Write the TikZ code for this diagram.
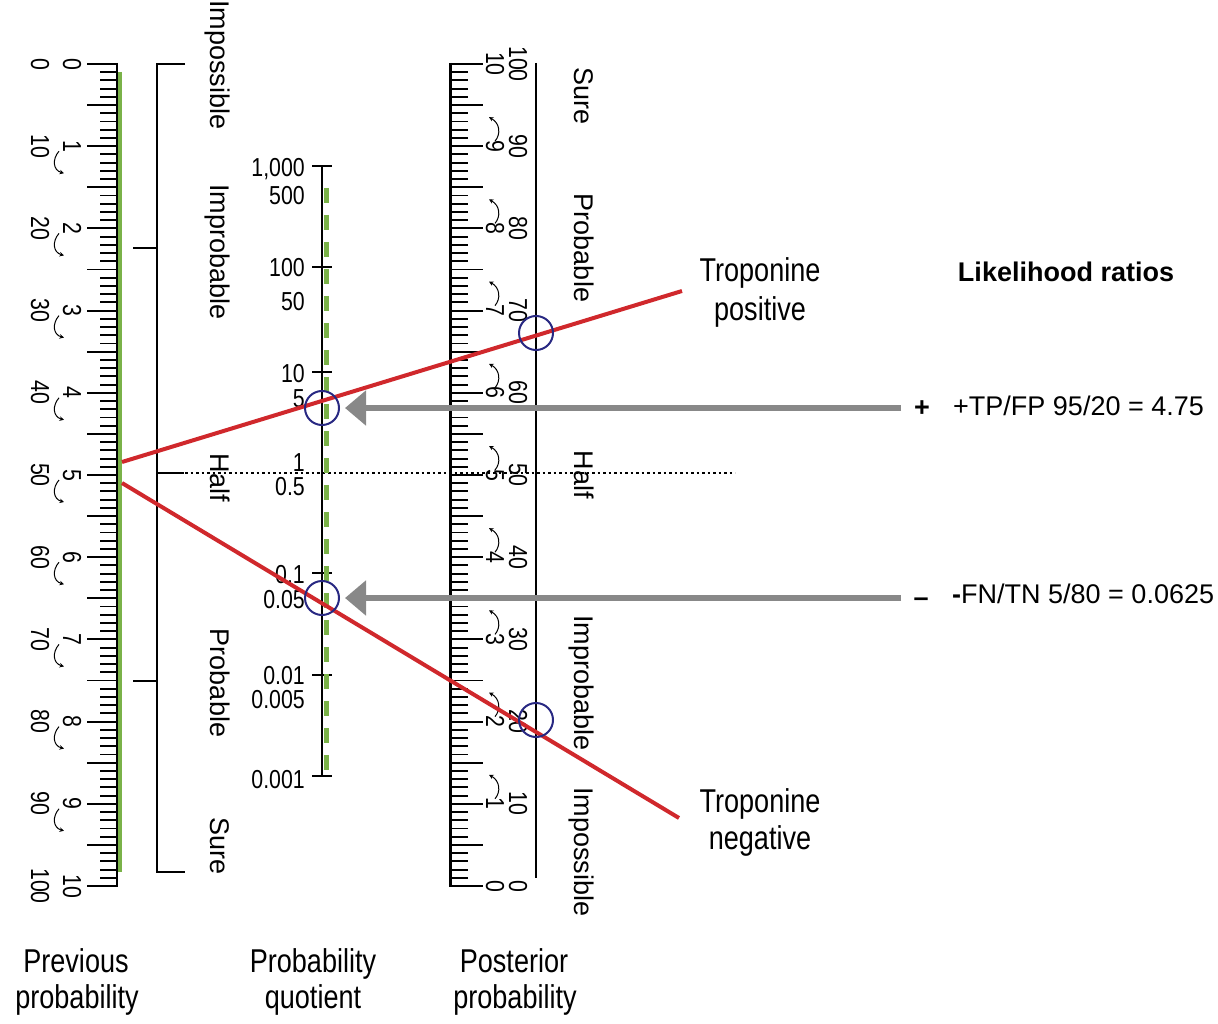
\documentclass[tikz,border=0pt]{standalone}
\usepackage{fontspec}
\setmainfont{Liberation Sans}
\newfontfamily\condf[FakeStretch=0.82]{Liberation Sans}
\usetikzlibrary{arrows.meta}
\definecolor{rulgreen}{RGB}{122,178,72}
\definecolor{nred}{RGB}{208,40,44}
\definecolor{cblue}{RGB}{40,40,130}
\definecolor{agray}{RGB}{136,136,136}
\begin{document}
\begin{tikzpicture}[x=1pt,y=-1pt,
  tk/.style={line width=1.9pt},
  numlab/.style={font=\condf\fontsize{26}{26}\selectfont, rotate=-90, anchor=base, inner sep=0pt},
  wordlab/.style={font=\fontsize{27}{27}\selectfont, rotate=-90, anchor=base, inner sep=0pt},
  qlab/.style={font=\condf\fontsize{26}{26}\selectfont, anchor=base east, inner sep=0pt, text height=0.72em, text depth=0pt},
  ringc/.style={circle, draw=cblue, line width=2pt, minimum size=34pt, inner sep=0pt},
  redln/.style={draw=nred, line width=4pt},
  grayarr/.style={draw=agray, line width=6pt, -{Triangle[length=21pt,width=34pt]}},
  curlarr/.style={line width=1pt, -{Stealth[length=4.5pt,width=4.5pt]}},
  biglab/.style={font=\condf\fontsize{33}{33}\selectfont, anchor=base, inner sep=0pt},
  txtlab/.style={font=\fontsize{27}{27}\selectfont, anchor=base west, inner sep=0pt},
]
\useasboundingbox (0,0) rectangle (1218,1024);

% ---------- left ruler (previous probability)
\foreach \i in {0,...,100} {
  \pgfmathsetmacro\yy{64+8.22*\i}
  \draw[tk] (100,\yy) -- (117,\yy);
}
\foreach \i in {0,5,...,100} {
  \pgfmathsetmacro\yy{64+8.22*\i}
  \draw[tk] (87,\yy) -- (117,\yy);
}
\draw[line width=2pt] (117,63) -- (117,887);
\foreach \i in {0,...,10} {
  \pgfmathsetmacro\yy{64+82.2*\i}
  \pgfmathtruncatemacro\v{10*\i}
  \node[numlab] (lo\i) at (31,\yy) {\v};
  \node[numlab] (li\i) at (63,\yy) {\i};
}
\foreach \i in {1,...,9} {
  \pgfmathsetmacro\yy{64+82.2*\i}
  \draw[curlarr] (59,\yy+5) .. controls (52,\yy+13) and (53,\yy+24) .. (64,\yy+27);
}

% ---------- left bracket
\draw[line width=2pt] (185,64) -- (157,64) -- (157,872) -- (185,872);
\draw[line width=2pt] (133,248) -- (157,248);
\draw[line width=2pt] (133,681) -- (157,681);
\draw[line width=2pt] (157,473) -- (184,473);
\node[wordlab] (lw1) at (210,65) {Impossible};
\node[wordlab] (lw2) at (210,252) {Improbable};
\node[wordlab] (lw3) at (210,478) {Half};
\node[wordlab] (lw4) at (210,683) {Probable};
\node[wordlab] (lw5) at (210,846) {Sure};

% ---------- middle scale (probability quotient)
\draw[line width=2pt] (322,166) -- (322,776);
\foreach \yy in {166,267,372,573,675,776} {
  \draw[line width=2pt] (312,\yy) -- (332,\yy);
}
\node[qlab] (q1) at (305,177) {1,000};
\node[qlab] (q2) at (305,205) {500};
\node[qlab] (q3) at (305,277) {100};
\node[qlab] (q4) at (305,310) {50};
\node[qlab] (q5) at (305,382) {10};
\node[qlab] (q6) at (305,407) {5};
\node[qlab] (q7) at (305,471) {1};
\node[qlab] (q8) at (305,495) {0.5};
\node[qlab] (q9) at (305,583) {0.1};
\node[qlab] (q10) at (305,608) {0.05};
\node[qlab] (q11) at (305,684) {0.01};
\node[qlab] (q12) at (305,708) {0.005};
\node[qlab] (q13) at (305,788) {0.001};

% ---------- right ruler (posterior probability)
\foreach \i in {0,...,100} {
  \pgfmathsetmacro\yy{886-8.22*\i}
  \draw[tk] (450,\yy) -- (468,\yy);
}
\foreach \i in {0,5,...,100} {
  \pgfmathsetmacro\yy{886-8.22*\i}
  \draw[tk] (450,\yy) -- (483,\yy);
}
\draw[line width=3pt] (450,63) -- (450,887);
\draw[line width=2pt] (536,63) -- (536,878);
\foreach \i in {0,...,10} {
  \pgfmathsetmacro\yy{886-82.2*\i}
  \pgfmathtruncatemacro\v{10*\i}
  \node[numlab] (ro\i) at (509,\yy) {\v};
  \node[numlab] (ri\i) at (486,\yy) {\i};
}
\foreach \i in {1,...,9} {
  \pgfmathsetmacro\yy{886-82.2*\i}
  \draw[curlarr] (495,\yy-5) .. controls (501,\yy-12) and (500,\yy-23) .. (489,\yy-29);
}
\node[wordlab] (rw1) at (574,96) {Sure};
\node[wordlab] (rw2) at (574,248) {Probable};
\node[wordlab] (rw3) at (574,475) {Half};
\node[wordlab] (rw4) at (574,683) {Improbable};
\node[wordlab] (rw5) at (574,852) {Impossible};

% ---------- half line
\coordinate (hl) at (185,473);
\coordinate (hr) at (735,473);
\draw[line width=2pt, dash pattern=on 2.5pt off 3pt] (hl) -- (hr);

% ---------- green lines
\draw[rulgreen, line width=4pt] (120,72) -- (120,872);
\draw[rulgreen, line width=5pt, dash pattern=on 15pt off 12pt] (326,188) -- (326,776);

% ---------- red lines
\coordinate (s1) at (122,462);
\coordinate (e1) at (682,291);
\coordinate (s2) at (122,483);
\coordinate (e2) at (679,818);
\draw[redln] (s1) -- (e1);
\draw[redln] (s2) -- (e2);

% ---------- circles
\node[ringc] (c1) at (322,408) {};
\node[ringc] (c2) at (322,598) {};
\node[ringc] (c3) at (536,333) {};
\node[ringc] (c4) at (536,720) {};

% ---------- gray arrows
\coordinate (g1) at (901,408);
\coordinate (g2) at (901,598);
\draw[grayarr, shorten >=5pt] (g1) -- (c1);
\draw[grayarr, shorten >=5pt] (g2) -- (c2);

% ---------- right texts
\node[biglab] (tp1) at (760,282) {Troponine};
\node[biglab] (tp2) at (760,320) {positive};
\node[biglab] (tn1) at (760,812) {Troponine};
\node[biglab] (tn2) at (760,849) {negative};
\node[font=\bfseries\fontsize{27}{27}\selectfont, anchor=base, inner sep=0pt] (lh) at (1066,282) {Likelihood ratios};
\node[font=\bfseries\fontsize{27}{27}\selectfont, anchor=base, inner sep=0pt] (pl) at (922,416) {+};
\node[font=\bfseries\fontsize{27}{27}\selectfont, anchor=base, inner sep=0pt] (mi) at (921,606) {--};
\node[txtlab] (lrp) at (953,415) {+TP/FP 95/20 = 4.75};
\node[txtlab] (lrn) at (952,603) {\textbf{-}FN/TN 5/80 = 0.0625};

% ---------- bottom titles
\node[biglab] (b1a) at (76,972) {Previous};
\node[biglab] (b1b) at (77,1008) {probability};
\node[biglab] (b2a) at (313,972) {Probability};
\node[biglab] (b2b) at (313,1008) {quotient};
\node[biglab] (b3a) at (514,972) {Posterior};
\node[biglab] (b3b) at (515,1008) {probability};
\end{tikzpicture}
\end{document}
